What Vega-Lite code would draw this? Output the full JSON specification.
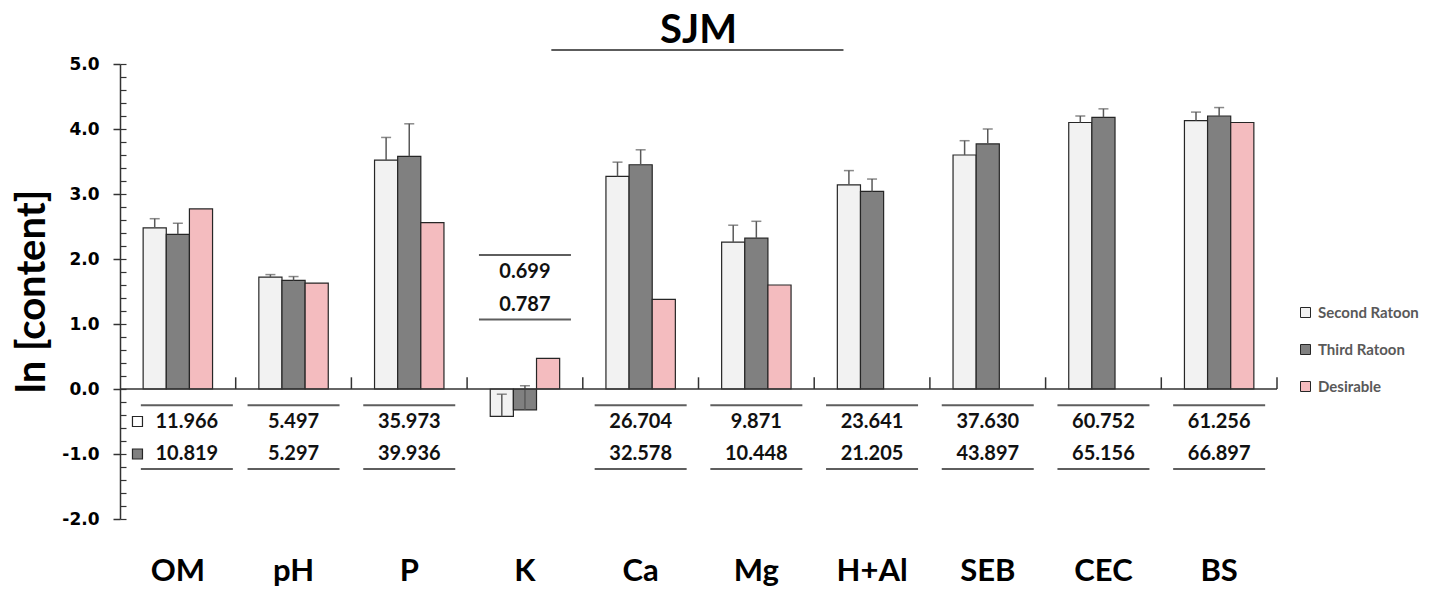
{
  "$schema": "https://vega.github.io/schema/vega-lite/v6.json",
  "width": 1157,
  "height": 455,
  "autosize": {"type": "none"},
  "padding": {"left": 120, "top": 64, "right": 164, "bottom": 72},
  "background": "white",
  "config": {"view": {"stroke": null}},
  "title": {
    "text": "SJM",
    "anchor": "middle",
    "font": "Lato",
    "fontSize": 40,
    "fontWeight": "bold",
    "color": "#000000",
    "offset": -2
  },
  "datasets": {
    "bars": [
      {"cat": "OM", "series": "Second Ratoon", "value": 2.48, "upper": 2.62},
      {"cat": "OM", "series": "Third Ratoon", "value": 2.38, "upper": 2.55},
      {"cat": "OM", "series": "Desirable", "value": 2.77},
      {"cat": "pH", "series": "Second Ratoon", "value": 1.72, "upper": 1.76},
      {"cat": "pH", "series": "Third Ratoon", "value": 1.67, "upper": 1.73},
      {"cat": "pH", "series": "Desirable", "value": 1.63},
      {"cat": "P", "series": "Second Ratoon", "value": 3.52, "upper": 3.87},
      {"cat": "P", "series": "Third Ratoon", "value": 3.58, "upper": 4.08},
      {"cat": "P", "series": "Desirable", "value": 2.56},
      {"cat": "K", "series": "Second Ratoon", "value": -0.42, "upper": -0.08},
      {"cat": "K", "series": "Third Ratoon", "value": -0.32, "upper": 0.05},
      {"cat": "K", "series": "Desirable", "value": 0.47},
      {"cat": "Ca", "series": "Second Ratoon", "value": 3.27, "upper": 3.49},
      {"cat": "Ca", "series": "Third Ratoon", "value": 3.45, "upper": 3.68},
      {"cat": "Ca", "series": "Desirable", "value": 1.38},
      {"cat": "Mg", "series": "Second Ratoon", "value": 2.26, "upper": 2.52},
      {"cat": "Mg", "series": "Third Ratoon", "value": 2.32, "upper": 2.58},
      {"cat": "Mg", "series": "Desirable", "value": 1.60},
      {"cat": "H+Al", "series": "Second Ratoon", "value": 3.14, "upper": 3.36},
      {"cat": "H+Al", "series": "Third Ratoon", "value": 3.04, "upper": 3.23},
      {"cat": "SEB", "series": "Second Ratoon", "value": 3.60, "upper": 3.82},
      {"cat": "SEB", "series": "Third Ratoon", "value": 3.77, "upper": 4.00},
      {"cat": "CEC", "series": "Second Ratoon", "value": 4.10, "upper": 4.20},
      {"cat": "CEC", "series": "Third Ratoon", "value": 4.18, "upper": 4.31},
      {"cat": "BS", "series": "Second Ratoon", "value": 4.13, "upper": 4.26},
      {"cat": "BS", "series": "Third Ratoon", "value": 4.20, "upper": 4.33},
      {"cat": "BS", "series": "Desirable", "value": 4.10}
    ],
    "table": [
      {"cat": "OM", "r1": 11.966, "r2": 10.819},
      {"cat": "pH", "r1": 5.497, "r2": 5.297},
      {"cat": "P", "r1": 35.973, "r2": 39.936},
      {"cat": "K", "r1": 0.699, "r2": 0.787},
      {"cat": "Ca", "r1": 26.704, "r2": 32.578},
      {"cat": "Mg", "r1": 9.871, "r2": 10.448},
      {"cat": "H+Al", "r1": 23.641, "r2": 21.205},
      {"cat": "SEB", "r1": 37.630, "r2": 43.897},
      {"cat": "CEC", "r1": 60.752, "r2": 65.156},
      {"cat": "BS", "r1": 61.256, "r2": 66.897}
    ]
  },
  "resolve": {"scale": {"y": "independent"}, "axis": {"y": "independent"}},
  "layer": [
    {
      "data": {"values": [{}]},
      "mark": {"type": "rule", "opacity": 0},
      "encoding": {
        "y": {
          "datum": 0,
          "type": "quantitative",
          "scale": {"domain": [-2, 5], "nice": false, "zero": false},
          "axis": {
            "orient": "left",
            "values": [-2, -1.8, -1.6, -1.4, -1.2, -1, -0.8, -0.6, -0.4, -0.2, 0, 0.2, 0.4, 0.6, 0.8, 1, 1.2, 1.4, 1.6, 1.8, 2, 2.2, 2.4, 2.6, 2.8, 3, 3.2, 3.4, 3.6, 3.8, 4, 4.2, 4.4, 4.6, 4.8, 5],
            "labels": false,
            "domain": false,
            "grid": false,
            "tickSize": -6,
            "tickColor": "#333333",
            "tickWidth": 1.2,
            "title": null
          }
        }
      }
    },
    {
      "layer": [
        {
          "data": {"name": "bars"},
          "mark": {"type": "bar", "stroke": "#262626", "strokeWidth": 1.2},
          "encoding": {
            "x": {
              "field": "cat",
              "type": "nominal",
              "sort": ["OM", "pH", "P", "K", "Ca", "Mg", "H+Al", "SEB", "CEC", "BS"],
              "scale": {"paddingInner": 0, "paddingOuter": 0},
              "axis": {
                "orient": "bottom",
                "domain": false,
                "ticks": false,
                "labelAngle": 0,
                "labelFont": "Lato",
                "labelFontWeight": "bold",
                "labelFontSize": 31,
                "labelColor": "#000000",
                "labelPadding": 37,
                "title": null
              }
            },
            "xOffset": {
              "field": "series",
              "type": "nominal",
              "sort": ["Second Ratoon", "Third Ratoon", "Desirable"],
              "scale": {"paddingInner": 0, "paddingOuter": 1.05}
            },
            "y": {
              "field": "value",
              "type": "quantitative",
              "scale": {"domain": [-2, 5], "nice": false, "zero": false},
              "axis": {
                "orient": "left",
                "values": [-2, -1, 0, 1, 2, 3, 4, 5],
                "format": ".1f",
                "labelExpr": "replace(datum.label, '−', '-')",
                "labelFont": "DejaVu Sans",
                "labelFontWeight": "bold",
                "labelFontSize": 17,
                "labelColor": "#000000",
                "labelPadding": 14,
                "tickSize": 7,
                "tickColor": "#333333",
                "tickWidth": 1.5,
                "domainColor": "#333333",
                "domainWidth": 1.5,
                "grid": false,
                "title": "ln [content]",
                "titleFont": "Lato",
                "titleFontSize": 40,
                "titleFontWeight": "bold",
                "titleColor": "#000000",
                "titleAngle": -90,
                "titleX": -76,
                "titleY": 227,
                "titleAlign": "center",
                "titleBaseline": "alphabetic"
              }
            },
            "color": {
              "field": "series",
              "type": "nominal",
              "scale": {
                "domain": ["Second Ratoon", "Third Ratoon", "Desirable"],
                "range": ["#f2f2f2", "#808080", "#f4bcbf"]
              },
              "legend": {
                "orient": "none",
                "legendX": 1178,
                "legendY": 241,
                "title": null,
                "padding": 0,
                "symbolType": "square",
                "symbolSize": 100,
                "symbolStrokeColor": "#262626",
                "symbolStrokeWidth": 1,
                "labelFont": "Lato",
                "labelFontWeight": "bold",
                "labelFontSize": 15,
                "labelColor": "#595959",
                "labelOffset": 5,
                "rowPadding": 21
              }
            }
          }
        },
        {
          "data": {"name": "bars"},
          "transform": [{"filter": "datum.series !== 'Desirable'"}],
          "mark": {"type": "rule", "color": "#595959", "strokeWidth": 1.5},
          "encoding": {
            "x": {"field": "cat", "type": "nominal", "sort": ["OM", "pH", "P", "K", "Ca", "Mg", "H+Al", "SEB", "CEC", "BS"]},
            "xOffset": {"field": "series", "type": "nominal", "sort": ["Second Ratoon", "Third Ratoon", "Desirable"]},
            "y": {"field": "value", "type": "quantitative"},
            "y2": {"field": "upper"}
          }
        },
        {
          "data": {"name": "bars"},
          "transform": [{"filter": "datum.series !== 'Desirable'"}],
          "mark": {"type": "tick", "color": "#595959", "thickness": 1.5, "size": 10, "orient": "horizontal"},
          "encoding": {
            "x": {"field": "cat", "type": "nominal", "sort": ["OM", "pH", "P", "K", "Ca", "Mg", "H+Al", "SEB", "CEC", "BS"]},
            "xOffset": {"field": "series", "type": "nominal", "sort": ["Second Ratoon", "Third Ratoon", "Desirable"]},
            "y": {"field": "upper", "type": "quantitative"}
          }
        },
        {
          "data": {"values": [{}]},
          "mark": {"type": "rule", "color": "#333333", "strokeWidth": 1.5},
          "encoding": {"y": {"datum": 0, "type": "quantitative"}}
        },
        {
          "data": {"values": [{}]},
          "mark": {"type": "rule", "color": "#262626", "strokeWidth": 1.5},
          "encoding": {
            "x": {"datum": "K", "type": "nominal", "bandPosition": 0.728},
            "x2": {"datum": "H+Al", "bandPosition": 0.253},
            "y": {"datum": 5.215, "type": "quantitative"}
          }
        },
        {
          "data": {"name": "table"},
          "transform": [{"filter": "datum.cat !== 'OM'"}],
          "mark": {"type": "rule", "color": "#333333", "strokeWidth": 1.5},
          "encoding": {
            "x": {"field": "cat", "type": "nominal", "bandPosition": 0, "sort": ["OM", "pH", "P", "K", "Ca", "Mg", "H+Al", "SEB", "CEC", "BS"]},
            "y": {"datum": 0, "type": "quantitative"},
            "y2": {"datum": 0.18}
          }
        },
        {
          "data": {"name": "table"},
          "transform": [{"filter": "datum.cat === 'BS'"}],
          "mark": {"type": "rule", "color": "#333333", "strokeWidth": 1.5},
          "encoding": {
            "x": {"field": "cat", "type": "nominal", "bandPosition": 1, "sort": ["OM", "pH", "P", "K", "Ca", "Mg", "H+Al", "SEB", "CEC", "BS"]},
            "y": {"datum": 0, "type": "quantitative"},
            "y2": {"datum": 0.18}
          }
        },
        {
          "data": {"name": "table"},
          "transform": [{"filter": "datum.cat !== 'K' && datum.cat !== 'OM'"}],
          "layer": [
            {"mark": {"type": "tick", "color": "#1a1a1a", "thickness": 2, "size": 92, "orient": "horizontal"}, "encoding": {"y": {"datum": -0.25, "type": "quantitative"}}},
            {"mark": {"type": "tick", "color": "#1a1a1a", "thickness": 2, "size": 92, "orient": "horizontal"}, "encoding": {"y": {"datum": -1.23, "type": "quantitative"}}},
            {"mark": {"type": "text", "font": "Lato", "fontWeight": "bold", "fontSize": 20, "color": "#111111", "baseline": "middle"}, "encoding": {"y": {"datum": -0.5, "type": "quantitative"}, "text": {"field": "r1", "type": "quantitative", "format": ".3f"}}},
            {"mark": {"type": "text", "font": "Lato", "fontWeight": "bold", "fontSize": 20, "color": "#111111", "baseline": "middle"}, "encoding": {"y": {"datum": -1.0, "type": "quantitative"}, "text": {"field": "r2", "type": "quantitative", "format": ".3f"}}}
          ],
          "encoding": {
            "x": {"field": "cat", "type": "nominal", "sort": ["OM", "pH", "P", "K", "Ca", "Mg", "H+Al", "SEB", "CEC", "BS"]}
          }
        },
        {
          "data": {"name": "table"},
          "transform": [{"filter": "datum.cat === 'OM'"}],
          "layer": [
            {"mark": {"type": "tick", "color": "#1a1a1a", "thickness": 2, "size": 92, "orient": "horizontal", "xOffset": 9}, "encoding": {"y": {"datum": -0.25, "type": "quantitative"}}},
            {"mark": {"type": "tick", "color": "#1a1a1a", "thickness": 2, "size": 92, "orient": "horizontal", "xOffset": 9}, "encoding": {"y": {"datum": -1.23, "type": "quantitative"}}},
            {"mark": {"type": "text", "font": "Lato", "fontWeight": "bold", "fontSize": 20, "color": "#111111", "baseline": "middle", "dx": 9}, "encoding": {"y": {"datum": -0.5, "type": "quantitative"}, "text": {"field": "r1", "type": "quantitative", "format": ".3f"}}},
            {"mark": {"type": "text", "font": "Lato", "fontWeight": "bold", "fontSize": 20, "color": "#111111", "baseline": "middle", "dx": 9}, "encoding": {"y": {"datum": -1.0, "type": "quantitative"}, "text": {"field": "r2", "type": "quantitative", "format": ".3f"}}}
          ],
          "encoding": {
            "x": {"field": "cat", "type": "nominal", "sort": ["OM", "pH", "P", "K", "Ca", "Mg", "H+Al", "SEB", "CEC", "BS"]}
          }
        },
        {
          "data": {"name": "table"},
          "transform": [{"filter": "datum.cat === 'OM'"}],
          "layer": [
            {"mark": {"type": "point", "shape": "square", "filled": true, "size": 100, "fill": "#ffffff", "stroke": "#262626", "strokeWidth": 1.2, "opacity": 1}, "encoding": {"y": {"datum": -0.5, "type": "quantitative"}}},
            {"mark": {"type": "point", "shape": "square", "filled": true, "size": 100, "fill": "#808080", "stroke": "#262626", "strokeWidth": 1.2, "opacity": 1}, "encoding": {"y": {"datum": -1.0, "type": "quantitative"}}}
          ],
          "encoding": {
            "x": {"field": "cat", "type": "nominal", "bandPosition": 0.151, "sort": ["OM", "pH", "P", "K", "Ca", "Mg", "H+Al", "SEB", "CEC", "BS"]}
          }
        },
        {
          "data": {"name": "table"},
          "transform": [{"filter": "datum.cat === 'K'"}],
          "layer": [
            {"mark": {"type": "tick", "color": "#1a1a1a", "thickness": 2, "size": 92, "orient": "horizontal"}, "encoding": {"y": {"datum": 2.06, "type": "quantitative"}}},
            {"mark": {"type": "tick", "color": "#1a1a1a", "thickness": 2, "size": 92, "orient": "horizontal"}, "encoding": {"y": {"datum": 1.07, "type": "quantitative"}}},
            {"mark": {"type": "text", "font": "Lato", "fontWeight": "bold", "fontSize": 20, "color": "#111111", "baseline": "middle"}, "encoding": {"y": {"datum": 1.8, "type": "quantitative"}, "text": {"field": "r1", "type": "quantitative", "format": ".3f"}}},
            {"mark": {"type": "text", "font": "Lato", "fontWeight": "bold", "fontSize": 20, "color": "#111111", "baseline": "middle"}, "encoding": {"y": {"datum": 1.29, "type": "quantitative"}, "text": {"field": "r2", "type": "quantitative", "format": ".3f"}}}
          ],
          "encoding": {
            "x": {"field": "cat", "type": "nominal", "sort": ["OM", "pH", "P", "K", "Ca", "Mg", "H+Al", "SEB", "CEC", "BS"]}
          }
        }
      ]
    }
  ]
}
